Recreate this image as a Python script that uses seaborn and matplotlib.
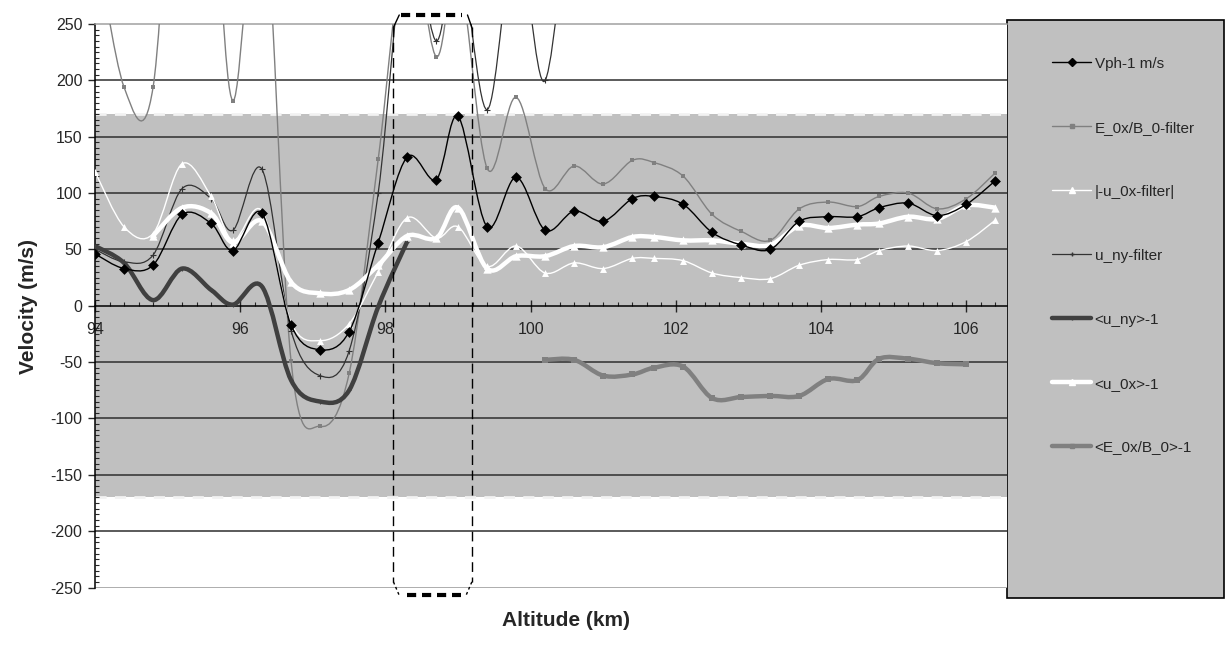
import numpy as np
import matplotlib
matplotlib.use("Agg")
import matplotlib.pyplot as plt
from matplotlib.path import Path
from matplotlib.patches import PathPatch, Rectangle
from matplotlib.lines import Line2D
from matplotlib.ticker import MultipleLocator
import seaborn as sns

# altitude grid (km) shared by all series, NaN where a series has no value
altitude = [94.0, 94.4, 94.8, 95.2, 95.6, 95.9, 96.3, 96.7, 97.1, 97.5, 97.9,
            98.3, 98.7, 99.0, 99.4, 99.8, 100.2, 100.6, 101.0, 101.4, 101.7,
            102.1, 102.5, 102.9, 103.3, 103.7, 104.1, 104.5, 104.8, 105.2,
            105.6, 106.0, 106.4]
nan = np.nan

vph = [46, 33, 36, 81, 73, 49, 82, -17, -39, -23, 56, 132, 112, 168, 70, 114,
       67, 84, 75, 95, 97, 90, 65, 54, 50, 75, 79, 79, 87, 91, 80, 90, 111]
e_filter = [330, 194, 194, 520, 400, 182, 380, -49, -107, -60, 130, 330, 221,
            300, 122, 185, 104, 124, 108, 129, 127, 115, 81, 66, 58, 86, 92,
            88, 97, 100, 86, 95, 118]
u0x_filter = [119, 70, 64, 126, 97, 58, 84, -15, -31, -16, 30, 78, 60, 70, 35,
              53, 29, 38, 33, 42, 42, 40, 29, 25, 24, 36, 41, 41, 49, 53, 49,
              57, 76]
uny_filter = [50, 39, 45, 104, 95, 67, 121, -22, -62, -40, 100, 330, 235, 320,
              174, 330, 200, 420] + [nan] * 15
uny_mean = [53, 38, 5, 33, 14, 1, 17, -66, -85, -75, -1, 57] + [nan] * 21
u0x_mean = [nan, nan, 62, 87, 82, 56, 75, 21, 11, 14, 36, 62, 60, 87, 33, 44,
            44, 53, 52, 61, 61, 58, 58, 55, 54, 71, 69, 72, 73, 79, 77, 89, 87]
e_mean = [nan] * 16 + [-48, -48, -62, -61, -55, -54, -82, -81, -80, -80, -65,
                       -66, -47, -47, -51, -52] + [nan]

labels = ["Vph-1 m/s", "E_0x/B_0-filter", "|-u_0x-filter|", "u_ny-filter",
          "<u_ny>-1", "<u_0x>-1", "<E_0x/B_0>-1"]

# dashed highlight box around the 98.1-99.2 km layer
box_x = (98.11, 99.19)
box_side = (247, -245)
box_y = (258, -257)


def smooth_path(x, y):
    """Excel-like smoothed line: cubic Bezier segments with Catmull-Rom tangents."""
    x = np.asarray(x, float)
    y = np.asarray(y, float)
    ok = ~np.isnan(y)
    pts = np.column_stack([x[ok], y[ok]])
    n = len(pts)
    verts = [pts[0]]
    codes = [Path.MOVETO]
    for i in range(n - 1):
        p0 = pts[max(i - 1, 0)]
        p1 = pts[i]
        p2 = pts[i + 1]
        p3 = pts[min(i + 2, n - 1)]
        verts += [p1 + (p2 - p0) / 6, p2 - (p3 - p1) / 6, p2]
        codes += [Path.CURVE4] * 3
    return Path(verts, codes)


sns.set_style("white")
plt.rcParams["font.family"] = ["Liberation Sans", "DejaVu Sans"]
plt.rcParams["axes.unicode_minus"] = False

fig = plt.figure(figsize=(12.25, 6.45), dpi=100)
ax = fig.add_axes([95 / 1225, 1 - 587.5 / 645, 912 / 1225, 563.5 / 645])
ax.set_facecolor("white")

# grey band and grid
ax.axhspan(-170, 170, color="#C0C0C0", lw=0, zorder=0)
for yb in (170, -170):
    ax.axhline(yb, color="#F2F2F2", lw=2, ls=(0, (4, 3)), zorder=0.5)
for yg in (-200, -150, -100, -50, 50, 100, 150, 200):
    ax.axhline(yg, color="#2E2E2E", lw=1.1, zorder=1)
ax.axhline(-250, color="#A0A0A0", lw=1.2, zorder=1)

# (label, data, line colour, lw, marker, marker size, marker face, zorder)
series = [
    (labels[1], e_filter, "#808080", 1.0, "s", 3.5, "#808080", 2),
    (labels[3], uny_filter, "#333333", 0.9, "+", 4, "#333333", 2.2),
    (labels[2], u0x_filter, "white", 1.0, "^", 5, "white", 2.4),
    (labels[4], uny_mean, "#404040", 3.2, "+", 3, "#404040", 2.6),
    (labels[6], e_mean, "#808080", 3.2, "s", 4, "#808080", 2.7),
    (labels[5], u0x_mean, "white", 3.2, "^", 6, "white", 2.8),
    (labels[0], vph, "black", 1.0, "D", 5.5, "black", 3),
]

handles = {}
for lab, vals, col, lw, mk, ms, mfc, z in series:
    ax.add_patch(PathPatch(smooth_path(altitude, vals), facecolor="none",
                           edgecolor=col, lw=lw, zorder=z))
    sns.scatterplot(x=altitude, y=vals, marker=mk, s=ms ** 2, color=mfc,
                    edgecolor=mfc if mk not in ("+",) else None,
                    linewidth=0.8 if mk == "+" else 0, ax=ax, zorder=z + 0.05,
                    legend=False)
    handles[lab] = Line2D([], [], color=col, lw=lw, marker=mk,
                          markersize=ms * 0.8, markerfacecolor=mfc,
                          markeredgecolor=mfc)

ax.set_xlim(94, 106.56)
ax.set_ylim(-250, 250)

# axes styling: x axis crosses at y = 0
ax.spines["bottom"].set_position(("data", 0))
ax.spines["bottom"].set_color("black")
ax.spines["left"].set_color("black")
ax.spines["top"].set_color("#A0A0A0")
ax.spines["right"].set_visible(False)
for s in ax.spines.values():
    s.set_linewidth(1.1)
    s.set_zorder(1.5)

ax.xaxis.set_major_locator(MultipleLocator(2))
ax.xaxis.set_minor_locator(MultipleLocator(0.2))
ax.yaxis.set_major_locator(MultipleLocator(50))
ax.yaxis.set_minor_locator(MultipleLocator(5))
ax.tick_params(axis="x", which="major", direction="inout", length=8, width=1,
               pad=8, labelsize=11.5, bottom=True)
ax.tick_params(axis="x", which="minor", direction="in", length=3, width=0.8,
               bottom=True)
ax.tick_params(axis="y", which="major", direction="out", length=5, width=1,
               pad=4, labelsize=11.5, left=True)
ax.tick_params(axis="y", which="minor", direction="in", length=3, width=0.8,
               left=True)

# dashed highlight box (drawn outside the axes too)
bx0, bx1 = box_x
st, sb = box_side
yt, yb = box_y
kw = dict(color="black", clip_on=False, zorder=4)
for bx in box_x:
    ax.plot([bx, bx], [st, sb], lw=1, ls=(0, (7, 4)), **kw)
ax.plot([bx0, bx0 + 0.08], [st, yt], lw=1, **kw)
ax.plot([bx1, bx1 - 0.06], [st, yt], lw=1, **kw)
ax.plot([bx0, bx0 + 0.08], [sb, yb], lw=1, ls=(0, (2, 2)), **kw)
ax.plot([bx1, bx1 - 0.08], [sb, yb], lw=1, ls=(0, (2, 2)), **kw)
ax.plot([bx0 + 0.1, bx1 - 0.13], [yt, yt], lw=3, ls=(0, (2.2, 1.4)), **kw)
ax.plot([bx0 + 0.18, bx1 - 0.15], [yb, yb], lw=3, ls=(0, (2.2, 1.4)), **kw)

# axis titles
fig.text(566 / 1225, 1 - 621 / 645, "Altitude (km)", ha="center", va="center",
         fontsize=15, fontweight="bold")
fig.text(28 / 1225, 1 - 307 / 645, "Velocity (m/s)", ha="center", va="center",
         rotation=90, fontsize=15, fontweight="bold")

# legend panel
fig.add_artist(Rectangle((1007 / 1225, 1 - 598 / 645), 217 / 1225, 578 / 645,
                         transform=fig.transFigure, facecolor="#C0C0C0",
                         edgecolor="black", lw=1.2, zorder=0))
fig.legend([handles[l] for l in labels], labels, loc="upper left",
           bbox_to_anchor=(1038 / 1225, 1 - 43 / 645), frameon=False,
           fontsize=11, labelspacing=3.27, handlelength=2.6, handletextpad=0.2)

fig.savefig("out.png", dpi=100)
plt.close(fig)
